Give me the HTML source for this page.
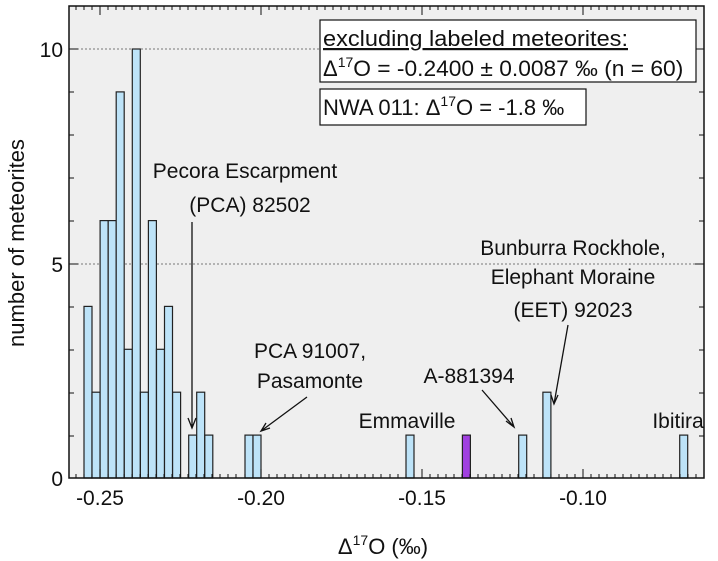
<!DOCTYPE html><html><head><style>body{margin:0;background:#fff}svg{display:block}text{font-family:"Liberation Sans",Arial,sans-serif;fill:#111}</style></head><body>
<svg width="718" height="561" viewBox="0 0 718 561" xmlns="http://www.w3.org/2000/svg">
<rect x="69" y="6" width="635" height="472" fill="#efefef"/>
<line x1="69" y1="49" x2="704" y2="49" stroke="#777" stroke-dasharray="2,2"/>
<line x1="69" y1="264" x2="704" y2="264" stroke="#777" stroke-dasharray="2,2"/>
<g fill="#bde3f8" stroke="#222" stroke-width="1.2">
<rect x="84" y="306.4" width="8" height="171.6"/>
<rect x="92" y="392.2" width="8" height="85.8"/>
<rect x="100.1" y="220.6" width="8" height="257.4"/>
<rect x="108.2" y="220.6" width="8" height="257.4"/>
<rect x="116.2" y="91.9" width="8" height="386.1"/>
<rect x="124.3" y="349.3" width="8" height="128.7"/>
<rect x="132.3" y="49" width="8" height="429"/>
<rect x="140.4" y="392.2" width="8" height="85.8"/>
<rect x="148.4" y="220.6" width="8" height="257.4"/>
<rect x="156.5" y="349.3" width="8" height="128.7"/>
<rect x="164.5" y="306.4" width="8" height="171.6"/>
<rect x="172.6" y="392.2" width="8" height="85.8"/>
<rect x="188.7" y="435.1" width="8" height="42.9"/>
<rect x="196.7" y="392.2" width="8" height="85.8"/>
<rect x="204.8" y="435.1" width="8" height="42.9"/>
<rect x="245" y="435.1" width="8" height="42.9"/>
<rect x="253" y="435.1" width="8" height="42.9"/>
<rect x="406" y="435.1" width="8" height="42.9"/>
<rect x="518.7" y="435.1" width="8" height="42.9"/>
<rect x="542.9" y="392.2" width="8" height="85.8"/>
<rect x="679.7" y="435.1" width="8" height="42.9"/>
</g>
<rect x="462.4" y="435.1" width="8" height="42.9" fill="#a040e0" stroke="#222" stroke-width="1.2"/>
<rect x="69" y="6" width="635" height="472" fill="none" stroke="#111" stroke-width="1.5"/>
<g stroke="#111" stroke-width="1">
<path id="mt" d="M76,478v-4M84,478v-4M92,478v-4M108,478v-4M116,478v-4M124,478v-4M132,478v-4M140,478v-4M148,478v-4M156,478v-4M164,478v-4M172,478v-4M180,478v-4M188,478v-4M196,478v-4M204,478v-4M212,478v-4M220,478v-4M228,478v-4M236,478v-4M245,478v-4M253,478v-4M269,478v-4M277,478v-4M285,478v-4M293,478v-4M301,478v-4M309,478v-4M317,478v-4M325,478v-4M333,478v-4M341,478v-4M349,478v-4M357,478v-4M365,478v-4M373,478v-4M381,478v-4M390,478v-4M398,478v-4M406,478v-4M414,478v-4M430,478v-4M438,478v-4M446,478v-4M454,478v-4M462,478v-4M470,478v-4M478,478v-4M486,478v-4M494,478v-4M502,478v-4M510,478v-4M518,478v-4M526,478v-4M534,478v-4M543,478v-4M551,478v-4M559,478v-4M567,478v-4M575,478v-4M591,478v-4M599,478v-4M607,478v-4M615,478v-4M623,478v-4M631,478v-4M639,478v-4M647,478v-4M655,478v-4M663,478v-4M671,478v-4M680,478v-4M688,478v-4M696,478v-4"/>
<use href="#mt" transform="translate(0,484) scale(1,-1)"/>
<path d="M100,478v-9M261,478v-9M422,478v-9M583,478v-9M100,6v9M261,6v9M422,6v9M583,6v9"/>
<path d="M69,49h9M69,264h9M69,478h9M704,49h-9M704,264h-9"/>
<path d="M69,92h5M69,135h5M69,178h5M69,221h5M69,307h5M69,350h5M69,393h5M69,436h5M704,92h-5M704,135h-5M704,178h-5M704,221h-5M704,307h-5M704,350h-5M704,393h-5M704,436h-5"/>
</g>
<g font-size="21" text-anchor="middle">
<text x="100" y="505">-0.25</text><text x="261" y="505">-0.20</text><text x="422" y="505">-0.15</text><text x="583" y="505">-0.10</text>
</g>
<g font-size="21" text-anchor="end">
<text x="63" y="57">10</text><text x="63" y="272">5</text><text x="63" y="486">0</text>
</g>
<text transform="translate(24,243) rotate(-90)" font-size="22" text-anchor="middle">number of meteorites</text>
<text x="383" y="554" font-size="22" text-anchor="middle">Δ<tspan font-size="14" dy="-9">17</tspan><tspan dy="9">O (‰)</tspan></text>
<rect x="320" y="20" width="376" height="62" fill="#fff" stroke="#111" stroke-width="1.2"/>
<text x="323" y="46" font-size="22" text-decoration="underline" textLength="305" lengthAdjust="spacingAndGlyphs">excluding labeled meteorites:</text>
<text x="323" y="76" font-size="22">Δ<tspan font-size="14" dy="-9">17</tspan><tspan dy="9" textLength="330" lengthAdjust="spacingAndGlyphs">O = -0.2400 ± 0.0087 ‰ (n = 60)</tspan></text>
<rect x="320" y="89" width="266" height="36" fill="#fff" stroke="#111" stroke-width="1.2"/>
<text x="323" y="115" font-size="22">NWA 011: Δ<tspan font-size="14" dy="-9">17</tspan><tspan dy="9">O = -1.8 ‰</tspan></text>
<g font-size="21" text-anchor="middle">
<text x="245" y="178">Pecora Escarpment</text><text x="250" y="212">(PCA) 82502</text>
<text x="310" y="358">PCA 91007,</text><text x="310" y="388">Pasamonte</text>
<text x="407" y="428">Emmaville</text>
<text x="469" y="383">A-881394</text>
<text x="573" y="255">Bunburra Rockhole,</text><text x="573" y="284">Elephant Moraine</text><text x="573" y="317">(EET) 92023</text>
<text x="678" y="428">Ibitira</text>
</g>
<g stroke="#111" stroke-width="1.3" fill="none">
<path d="M192,222V428M188,418l4,10l4,-10"/>
<path d="M307,397L261,431M266,423l-5,8l9,-3"/>
<path d="M482,390L514,427M506,421l8,6l-3,-9"/>
<path d="M568,325L554,404M551,395l3,9l4,-9"/>
</g>
</svg></body></html>
